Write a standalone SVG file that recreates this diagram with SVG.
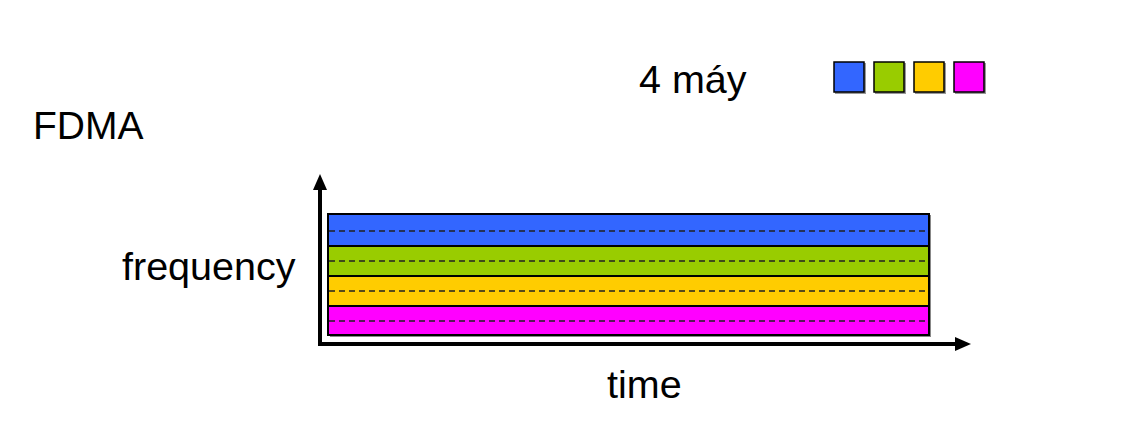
<svg xmlns="http://www.w3.org/2000/svg" width="1137" height="443" viewBox="0 0 1137 443">
<style>
.t{font-family:"Liberation Sans",Arial,sans-serif;font-size:39.5px;fill:#000}
.band{stroke:#000;stroke-width:2}
.dash{stroke:#222;stroke-width:1.5;stroke-dasharray:6 4;fill:none}
.sq{stroke:#000;stroke-width:1.5}
.ax{stroke:#000;stroke-width:4;fill:none}
</style>
<rect width="1137" height="443" fill="#fff"/>
<g id="title"><text class="t" x="33" y="139" style="font-size:39px">FDMA</text></g>
<g id="legend">
<text class="t" x="639" y="93">4 máy</text>
<rect x="835" y="63" width="31" height="31" fill="#999"/>
<rect x="834" y="62" width="30" height="30" class="sq" fill="#3366FF"/>
<rect x="875" y="63" width="31" height="31" fill="#999"/>
<rect x="874" y="62" width="30" height="30" class="sq" fill="#99CC00"/>
<rect x="915" y="63" width="31" height="31" fill="#999"/>
<rect x="914" y="62" width="30" height="30" class="sq" fill="#FFCC00"/>
<rect x="955" y="63" width="31" height="31" fill="#999"/>
<rect x="954" y="62" width="30" height="30" class="sq" fill="#FF00FF"/>
</g>
<g id="bands">
<rect x="330" y="215" width="601" height="122" fill="#888"/>
<rect x="328" y="214" width="601" height="32" class="band" fill="#3366FF"/>
<rect x="328" y="246" width="601" height="30" class="band" fill="#99CC00"/>
<rect x="328" y="276" width="601" height="30" class="band" fill="#FFCC00"/>
<rect x="328" y="306" width="601" height="29" class="band" fill="#FF00FF"/>
<line class="dash" x1="329" y1="231" x2="928" y2="231"/>
<line class="dash" x1="329" y1="261" x2="928" y2="261"/>
<line class="dash" x1="329" y1="291" x2="928" y2="291"/>
<line class="dash" x1="329" y1="321" x2="928" y2="321"/>
</g>
<g id="connectors">
<path class="ax" d="M320,345 L320,186"/>
<path d="M313,190 L320,174 L327,190 Z" fill="#000"/>
<path class="ax" d="M318,344 L958,344"/>
<path d="M955,337 L971,344 L955,351 Z" fill="#000"/>
</g>
<g id="labels">
<text class="t" x="122" y="280">frequency</text>
<text class="t" x="607" y="398">time</text>
</g>
</svg>
